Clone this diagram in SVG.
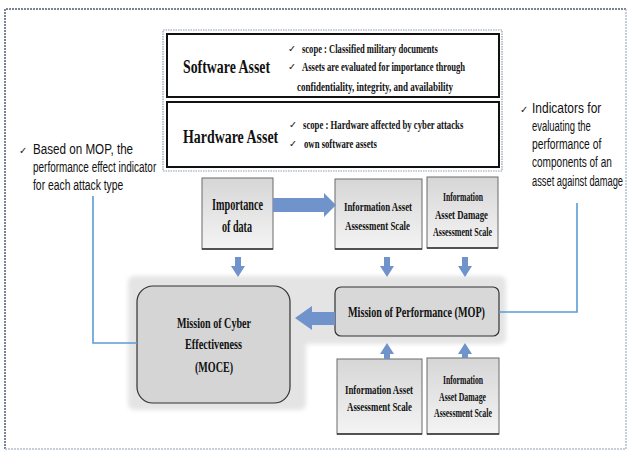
<svg xmlns="http://www.w3.org/2000/svg" width="630" height="451" viewBox="0 0 630 451">
  <style>
    .serif { font-family: "Liberation Serif", "Times New Roman", serif; font-weight: bold; fill: #111; }
    .sans { font-family: "Liberation Sans", Arial, sans-serif; fill: #111; }
    .chk { font-family: "DejaVu Sans", sans-serif; fill: #222; }
    .scale { fill: url(#boxGrad); stroke: #6a6a6a; stroke-width: 1; }
    .scaleEdge { stroke: #333; stroke-width: 1.6; }
    .asset { fill: #fff; stroke: #111; stroke-width: 2; }
    .arrow { fill: #7093cc; }
    .link { fill: none; stroke: #5b9bd5; stroke-width: 1.6; }
  </style>
  <defs>
    <linearGradient id="boxGrad" x1="0" y1="0" x2="0" y2="1">
      <stop offset="0" stop-color="#d6d6d6"/>
      <stop offset="1" stop-color="#f4f4f4"/>
    </linearGradient>
    <filter id="soft" x="-5%" y="-5%" width="110%" height="110%">
      <feGaussianBlur stdDeviation="2"/>
    </filter>
  </defs>

  <rect width="630" height="451" fill="#fff"/>

  <!-- outer frame -->
  <g fill="none" stroke-width="1.5">
    <path d="M5,449 L5,9 L626,9" stroke="#4f5d72" stroke-dasharray="2,1"/>
    <path d="M626,9 L626,449 L5,449" stroke="#b8c0cc" stroke-dasharray="2,1"/>
  </g>

  <!-- shaded panel behind MOCE / MOP -->
  <path d="M128,283 Q128,276 135,276 L499,276 Q506,276 506,283 L506,337 Q506,344 499,344 L306,344 L306,403 Q306,410 299,410 L135,410 Q128,410 128,403 Z" fill="#e4e4e4" filter="url(#soft)"/>

  <!-- asset panel -->
  <g id="assets">
    <rect x="163" y="30" width="339" height="141" fill="none" stroke="#8d9bb0" stroke-width="1.2" stroke-dasharray="1.5,1"/>
    <g id="software-asset">
      <rect class="asset" x="167" y="34" width="332" height="63"/>
      <text class="serif" transform="translate(183,73) scale(0.68,1)" font-size="19" textLength="128" lengthAdjust="spacingAndGlyphs">Software Asset</text>
      <text class="chk" x="288" y="52" font-size="9.5">✓</text>
      <text class="serif" transform="translate(302,53) scale(0.7,1)" font-size="13" textLength="194" lengthAdjust="spacingAndGlyphs">scope : Classified military documents</text>
      <text class="chk" x="288" y="70" font-size="9.5">✓</text>
      <text class="serif" transform="translate(302,71) scale(0.7,1)" font-size="13" textLength="233" lengthAdjust="spacingAndGlyphs">Assets are evaluated for importance through</text>
      <text class="serif" transform="translate(297,91) scale(0.7,1)" font-size="13" textLength="223" lengthAdjust="spacingAndGlyphs">confidentiality, integrity, and availability</text>
    </g>
    <g id="hardware-asset">
      <rect class="asset" x="167" y="102" width="332" height="65"/>
      <text class="serif" transform="translate(183,143) scale(0.68,1)" font-size="19" textLength="140" lengthAdjust="spacingAndGlyphs">Hardware Asset</text>
      <text class="chk" x="289" y="128" font-size="9.5">✓</text>
      <text class="serif" transform="translate(303,129) scale(0.7,1)" font-size="13" textLength="229" lengthAdjust="spacingAndGlyphs">scope : Hardware affected by cyber attacks</text>
      <text class="chk" x="289" y="147" font-size="9.5">✓</text>
      <text class="serif" transform="translate(304,148) scale(0.7,1)" font-size="13" textLength="104" lengthAdjust="spacingAndGlyphs">own software assets</text>
    </g>
  </g>

  <!-- side notes -->
  <g id="note-left">
    <text class="chk" x="19" y="154" font-size="10">✓</text>
    <g transform="translate(33,0) scale(0.7,1)">
      <text class="sans" x="0" y="154" font-size="14.5" textLength="143" lengthAdjust="spacingAndGlyphs">Based on MOP, the</text>
      <text class="sans" x="0" y="172" font-size="14.5" textLength="176" lengthAdjust="spacingAndGlyphs">performance effect indicator</text>
      <text class="sans" x="0" y="190" font-size="14.5" textLength="129" lengthAdjust="spacingAndGlyphs">for each attack type</text>
    </g>
  </g>
  <g id="note-right">
    <text class="chk" x="520" y="113" font-size="10">✓</text>
    <g transform="translate(532,0) scale(0.7,1)">
      <text class="sans" x="0" y="113" font-size="14.5" textLength="99" lengthAdjust="spacingAndGlyphs">Indicators for</text>
      <text class="sans" x="0" y="131" font-size="14.5" textLength="84" lengthAdjust="spacingAndGlyphs">evaluating the</text>
      <text class="sans" x="0" y="149" font-size="14.5" textLength="99" lengthAdjust="spacingAndGlyphs">performance of</text>
      <text class="sans" x="0" y="167" font-size="14.5" textLength="114" lengthAdjust="spacingAndGlyphs">components of an</text>
      <text class="sans" x="0" y="186" font-size="14.5" textLength="130" lengthAdjust="spacingAndGlyphs">asset against damage</text>
    </g>
  </g>

  <!-- upper row -->
  <g id="importance">
    <rect class="scale" x="202" y="178" width="71" height="71"/>
    <line class="scaleEdge" x1="202" y1="249" x2="273" y2="249"/>
    <text class="serif" x="212" y="210" font-size="16.5" textLength="51" lengthAdjust="spacingAndGlyphs">Importance</text>
    <text class="serif" x="222" y="232" font-size="16.5" textLength="30" lengthAdjust="spacingAndGlyphs">of data</text>
  </g>
  <g id="ia-scale-top">
    <rect class="scale" x="335" y="179" width="87" height="70"/>
    <line class="scaleEdge" x1="335" y1="249" x2="422" y2="249"/>
    <text class="serif" x="344" y="211" font-size="13" textLength="68" lengthAdjust="spacingAndGlyphs">Information Asset</text>
    <text class="serif" x="345" y="230" font-size="13" textLength="65" lengthAdjust="spacingAndGlyphs">Assessment Scale</text>
  </g>
  <g id="iad-scale-top">
    <rect class="scale" x="427" y="177" width="71" height="71"/>
    <line class="scaleEdge" x1="427" y1="248" x2="498" y2="248"/>
    <text class="serif" x="443" y="201" font-size="11.5" textLength="40" lengthAdjust="spacingAndGlyphs">Information</text>
    <text class="serif" x="435" y="219" font-size="11.5" textLength="53" lengthAdjust="spacingAndGlyphs">Asset Damage</text>
    <text class="serif" x="433" y="236" font-size="11.5" textLength="59" lengthAdjust="spacingAndGlyphs">Assessment Scale</text>
  </g>

  <!-- middle row -->
  <g id="moce">
    <rect x="137" y="286" width="153" height="117" rx="16" fill="#d5d5d5" stroke="#333" stroke-width="1.2"/>
    <text class="serif" x="177" y="328" font-size="15" textLength="74" lengthAdjust="spacingAndGlyphs">Mission of Cyber</text>
    <text class="serif" x="185" y="349" font-size="15" textLength="57" lengthAdjust="spacingAndGlyphs">Effectiveness</text>
    <text class="serif" x="195" y="372" font-size="15" textLength="38" lengthAdjust="spacingAndGlyphs">(MOCE)</text>
  </g>
  <g id="mop">
    <rect x="335" y="287" width="164" height="49" rx="6" fill="#d8d8d8" stroke="#333" stroke-width="1.2"/>
    <text class="serif" x="348" y="317" font-size="15" textLength="137" lengthAdjust="spacingAndGlyphs">Mission of Performance (MOP)</text>
  </g>

  <!-- lower row -->
  <g id="ia-scale-bottom">
    <rect class="scale" x="337" y="359" width="85" height="75"/>
    <line class="scaleEdge" x1="337" y1="434" x2="422" y2="434"/>
    <text class="serif" x="345" y="394" font-size="13" textLength="68" lengthAdjust="spacingAndGlyphs">Information Asset</text>
    <text class="serif" x="347" y="411" font-size="13" textLength="65" lengthAdjust="spacingAndGlyphs">Assessment Scale</text>
  </g>
  <g id="iad-scale-bottom">
    <rect class="scale" x="427" y="358" width="72" height="76"/>
    <line class="scaleEdge" x1="427" y1="434" x2="499" y2="434"/>
    <text class="serif" x="443" y="384" font-size="11.5" textLength="40" lengthAdjust="spacingAndGlyphs">Information</text>
    <text class="serif" x="439" y="401" font-size="11.5" textLength="47" lengthAdjust="spacingAndGlyphs">Asset Damage</text>
    <text class="serif" x="434" y="417" font-size="11.5" textLength="58" lengthAdjust="spacingAndGlyphs">Assessment Scale</text>
  </g>

  <!-- connectors -->
  <g id="connectors">
    <polyline class="link" points="93,196 93,343 137,343"/>
    <polyline class="link" points="577,203 577,312 499,312"/>
    <polygon class="arrow" points="273,198 324,198 324,193 336,205 324,217 324,212 273,212"/>
    <polygon class="arrow" points="235,257 241,257 241,266 245,266 238,277 231,266 235,266"/>
    <polygon class="arrow" points="384,257 390,257 390,266 394,266 387,277 380,266 384,266"/>
    <polygon class="arrow" points="462,257 468,257 468,266 472,266 465,277 458,266 462,266"/>
    <polygon class="arrow" points="335,312 312,312 312,306 295,318 312,330 312,325 335,325"/>
    <polygon class="arrow" points="384,359 390,359 390,354 394,354 387,343 380,354 384,354"/>
    <polygon class="arrow" points="462,358 468,358 468,354 472,354 465,343 458,354 462,354"/>
  </g>
</svg>
